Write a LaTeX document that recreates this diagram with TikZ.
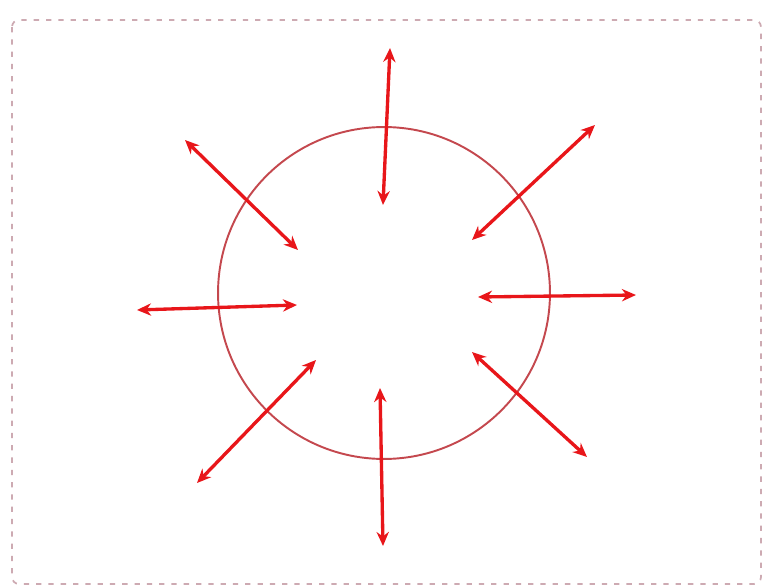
\documentclass[tikz,border=0pt]{standalone}
\usepackage{xcolor}
\definecolor{arrowred}{RGB}{232,22,26}
\definecolor{ringred}{RGB}{196,72,78}
\definecolor{frame}{RGB}{205,170,178}
\usepackage{tikz}
\usetikzlibrary{arrows.meta}

\begin{document}
\begin{tikzpicture}[x=0.02cm, y=-0.02cm,
    force/.style={arrowred, line width=1.9pt, {Stealth[length=8pt,width=7pt]}-{Stealth[length=8pt,width=7pt]}},
    ring/.style={ringred, line width=1.1pt}]
        \useasboundingbox (0,0) rectangle (765,588);
        % frame
        \draw[frame, line width=1pt, dash pattern=on 3pt off 4pt, rounded corners=4pt] (12,20) rectangle (761,584);
        % ring
        \draw[ring] (384,293) circle (3.32cm);
        % radial pairs: inner end / outer end
        \foreach \n/\ix/\iy/\ox/\oy in {1/383/205/390/48, 2/380/388/383/546, 3/297/305/137/310, 4/478/297/636/295,
                                         5/298/250/185/140, 6/472/240/595/125, 7/472/352/587/457, 8/316/360/197/483} {
            \coordinate (in\n) at (\ix,\iy);
            \coordinate (out\n) at (\ox,\oy);
            \draw[force] (in\n) -- (out\n);
        }
    \end{tikzpicture}
\end{document}
